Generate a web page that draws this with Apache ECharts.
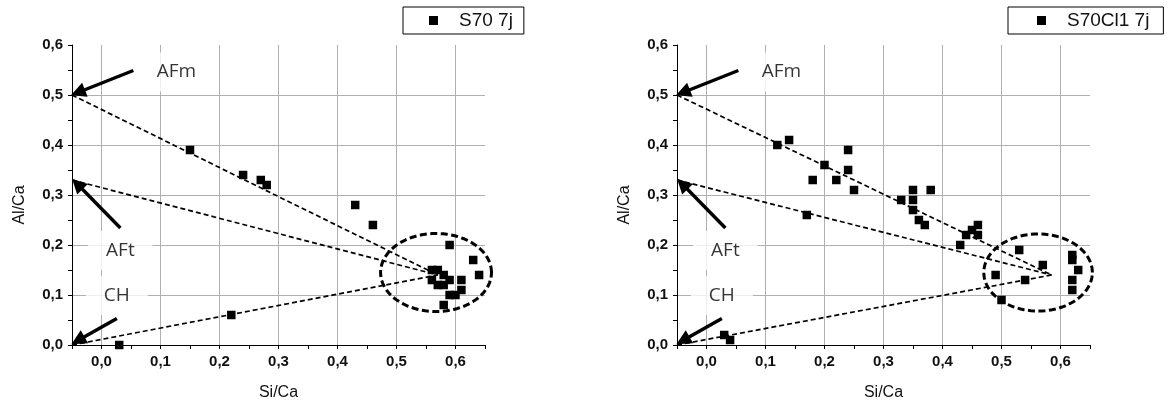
<!DOCTYPE html>
<html>
<head>
<meta charset="utf-8">
<script src="https://cdn.jsdelivr.net/npm/echarts@6/dist/echarts.min.js"></script>
<style>
html,body{margin:0;padding:0;background:#fff;}
#chart{width:1168px;height:406px;}
</style>
</head>
<body>
<div id="chart"></div>
<script>
// ---- data ----
const xRange = [-0.05, 0.65];
const yRange = [0, 0.6];
const tickStep = 0.05;
const xGridTicks = [0, 0.1, 0.2, 0.3, 0.4, 0.5, 0.6];
const yGridTicks = [0.1, 0.2, 0.3, 0.4, 0.5];
const seriesNames = ['S70 7j', 'S70Cl1 7j'];

const pointsS70 = [
  [0.03,0.00],[0.15,0.39],[0.22,0.06],[0.24,0.34],[0.27,0.33],[0.28,0.32],
  [0.43,0.28],[0.46,0.24],[0.56,0.15],[0.57,0.15],[0.56,0.13],[0.58,0.14],
  [0.59,0.13],[0.57,0.12],[0.58,0.12],[0.59,0.10],[0.60,0.10],[0.61,0.13],
  [0.61,0.11],[0.58,0.08],[0.59,0.20],[0.63,0.17],[0.64,0.14]
];
const pointsS70Cl1 = [
  [0.03,0.02],[0.04,0.01],[0.12,0.40],[0.14,0.41],[0.17,0.26],[0.18,0.33],
  [0.20,0.36],[0.22,0.33],[0.24,0.39],[0.24,0.35],[0.25,0.31],[0.33,0.29],
  [0.35,0.31],[0.35,0.29],[0.35,0.27],[0.36,0.25],[0.37,0.24],[0.38,0.31],
  [0.43,0.20],[0.44,0.22],[0.45,0.23],[0.46,0.24],[0.46,0.22],[0.49,0.14],
  [0.50,0.09],[0.53,0.19],[0.54,0.13],[0.57,0.16],[0.62,0.18],[0.62,0.17],
  [0.62,0.13],[0.62,0.11],[0.63,0.15]
];
// dashed tie lines: start points (AFm, AFt, CH) and convergence point
const tieStarts = [[-0.05,0.50],[-0.05,0.33],[-0.05,0.00]];
const tieEndS70 = [0.57,0.14];
const tieEndS70Cl1 = [0.585,0.14];
// ellipses: [cx, cy, rx, ry]
const ellipseS70 = [0.567,0.145,0.094,0.078];
const ellipseS70Cl1 = [0.562,0.145,0.092,0.077];
// arrows [tail, tip]
const arrows = [
  [[0.054,0.549],[-0.040,0.505]],
  [[0.032,0.234],[-0.041,0.322]],
  [[0.026,0.053],[-0.040,0.009]]
];
// phase labels [x, y, text]
const phaseLabels = [[0.127,0.546,'AFm'],[0.032,0.189,'AFt'],[0.026,0.099,'CH']];

// ---- chart ----
const chart = echarts.init(document.getElementById('chart'), null, {renderer:'canvas'});
const fmt = v => { const r = Math.round(v*100); return (r % 10 === 0) ? (r/100).toFixed(1).replace('.', ',') : ''; };
const gridDefs = [{left:72, top:45, width:413, height:302},{left:677, top:45, width:413, height:302}];
const GRID_COLOR = '#b0b0b0', NONE = 'rgba(0,0,0,0)';
// one split-line colour per tick (ticks every 0.05 from min): grey only at the grid tick values
function splitColors(range, gridTicks){
  const n = Math.round((range[1]-range[0])/tickStep);
  const out = [];
  for(let k=0;k<=n;k++){
    const v = range[0] + k*tickStep;
    out.push(gridTicks.some(g=>Math.abs(g-v)<1e-6) ? GRID_COLOR : NONE);
  }
  return out;
}

function axisX(i){
  return {gridIndex:i, type:'value', min:xRange[0], max:xRange[1], interval:tickStep,
    name:'Si/Ca', nameLocation:'middle', nameGap:40,
    nameTextStyle:{fontFamily:'Liberation Sans, Arial', fontSize:16, color:'#111'},
    axisLine:{show:true, onZero:false, lineStyle:{color:'#000', width:1}},
    axisTick:{show:true, inside:false, length:4, lineStyle:{color:'#000'}},
    axisLabel:{formatter:fmt, margin:9, fontFamily:'Liberation Sans, Arial', fontSize:15, fontWeight:'bold', color:'#111'},
    splitLine:{show:true, lineStyle:{color:splitColors(xRange, xGridTicks), width:1, opacity:1}}};
}
function axisY(i){
  return {gridIndex:i, type:'value', min:yRange[0], max:yRange[1], interval:tickStep,
    name:'Al/Ca', nameLocation:'middle', nameGap:44,
    nameTextStyle:{fontFamily:'Liberation Sans, Arial', fontSize:16, color:'#111', padding:[0,0,0,-20]},
    axisLine:{show:true, onZero:false, lineStyle:{color:'#000', width:1}},
    axisTick:{show:true, inside:false, length:4, lineStyle:{color:'#000'}},
    axisLabel:{formatter:fmt, margin:9, fontFamily:'Liberation Sans, Arial', fontSize:15, fontWeight:'bold', color:'#111'},
    splitLine:{show:true, lineStyle:{color:splitColors(yRange, yGridTicks), width:1, opacity:1}}};
}

function panelSeries(i, name, pts, tieEnd, ell){
  const base = {xAxisIndex:i, yAxisIndex:i};
  return [
    // phase labels with white boxes
    Object.assign({type:'scatter', z:3, silent:true, symbol:'rect', symbolSize:1,
      itemStyle:{color:'rgba(0,0,0,0)'},
      label:{show:true, position:'inside', formatter:p=>p.value[2],
        fontFamily:'Open Sans, Noto Sans, sans-serif', fontSize:19, color:'#000',
        backgroundColor:'#fff', padding:[10,18]},
      data: phaseLabels}, base),
    // dashed tie lines
    Object.assign({type:'lines', coordinateSystem:'cartesian2d', z:4, silent:true,
      symbol:['none','none'],
      lineStyle:{color:'#000', width:1.7, type:[5,3], opacity:1, curveness:0},
      data: tieStarts.map(s=>({coords:[s, tieEnd]}))}, base),
    // arrows
    Object.assign({type:'lines', coordinateSystem:'cartesian2d', z:4, silent:true,
      symbol:['none','triangle'], symbolSize:[0,15],
      lineStyle:{color:'#000', width:3.4, opacity:1, curveness:0},
      data: arrows.map(a=>({coords:a}))}, base),
    // ellipse
    Object.assign({type:'custom', z:4, silent:true, clip:false,
      renderItem:(params, api)=>{
        const c = api.coord([api.value(0), api.value(1)]);
        const s = api.size([api.value(2), api.value(3)]);
        const pts2 = [];
        for(let k=0;k<=96;k++){ const t=k/96*2*Math.PI; pts2.push([c[0]+s[0]*Math.cos(t), c[1]-s[1]*Math.sin(t)]); }
        return {type:'polyline', shape:{points:pts2},
          style:{fill:null, stroke:'#000', lineWidth:3, lineDash:[7,3.5]}};
      },
      data:[ell]}, base),
    // data points
    Object.assign({type:'scatter', name:name, z:5, symbol:'rect', symbolSize:8.5,
      itemStyle:{color:'#000', opacity:1}, data: pts}, base)
  ];
}

const legendText = {fontFamily:'Liberation Sans, Arial', fontSize:19, color:'#111', padding:[0,0,0,16]};
const option = {
  animation:false,
  backgroundColor:'#fff',
  grid: gridDefs,
  xAxis:[axisX(0), axisX(1)],
  yAxis:[axisY(0), axisY(1)],
  legend:[
    {data:[{name:seriesNames[0], icon:'rect', itemStyle:{opacity:1}}], left:403, top:7,
     borderColor:'#000', borderWidth:1, padding:[4,11,4,26], itemWidth:9, itemHeight:9,
     backgroundColor:'#fff', selectedMode:false, textStyle:legendText},
    {data:[{name:seriesNames[1], icon:'rect', itemStyle:{opacity:1}}], left:1008, top:7,
     borderColor:'#000', borderWidth:1, padding:[4,14,4,29], itemWidth:9, itemHeight:9,
     backgroundColor:'#fff', selectedMode:false, textStyle:legendText}
  ],
  series: [].concat(
    panelSeries(0, seriesNames[0], pointsS70, tieEndS70, ellipseS70),
    panelSeries(1, seriesNames[1], pointsS70Cl1, tieEndS70Cl1, ellipseS70Cl1)
  )
};
chart.setOption(option);
</script>
</body>
</html>
